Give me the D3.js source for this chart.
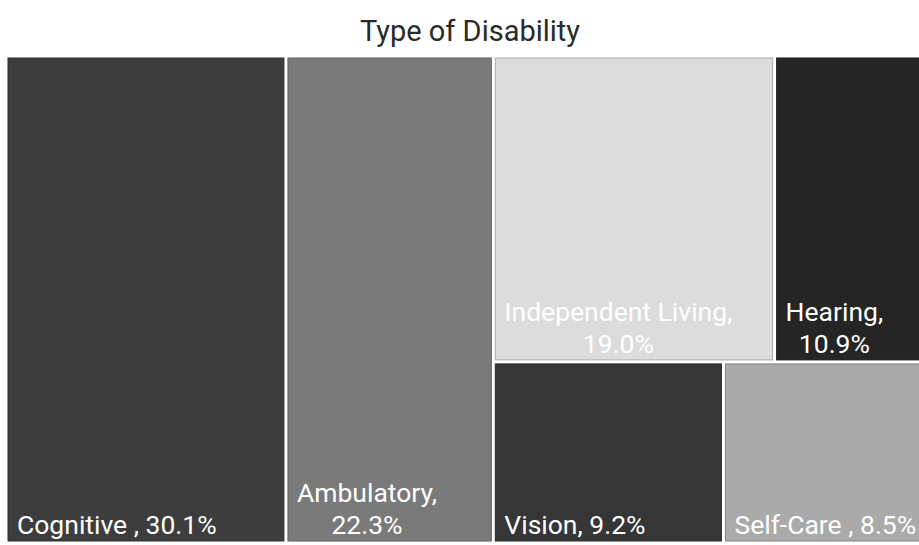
<!DOCTYPE html>
<html>
<head>
<meta charset="utf-8">
<script src="https://cdn.jsdelivr.net/npm/d3@7"></script>
<style>
  html, body { margin: 0; padding: 0; background: #fff; }
  svg { display: block; font-family: Roboto, "Noto Sans", sans-serif; }
</style>
</head>
<body>
<svg id="chart" width="919" height="545"></svg>
<script>
// Share of each disability type (percent)
const categories = ["Cognitive ", "Ambulatory", "Independent Living", "Hearing", "Vision", "Self-Care "];
const shares     = [30.1, 22.3, 19.0, 10.9, 9.2, 8.5];
// Layout group: columns on the left, then a 2x2 block split into top and bottom rows
const blocks     = ["Cognitive", "Ambulatory", "rest/top", "rest/top", "rest/bottom", "rest/bottom"];
const fills      = ["#3d3d3d", "#7a7a7a", "#dcdcdc", "#252525", "#363636", "#aaaaaa"];

const title = "Type of Disability";

const svg = d3.select("#chart");
const frame = { x: 8, y: 58, w: 926, h: 483 };

// Build nested hierarchy from the flat arrays
const leaves = categories.map((c, i) => ({ name: c, value: shares[i], fill: fills[i], path: blocks[i] }));
const rootData = { name: "root", children: [] };
leaves.forEach(l => {
  const parts = l.path.split("/");
  if (parts.length === 1) { rootData.children.push(l); return; }
  let parent = rootData;
  parts.forEach(p => {
    let n = parent.children.find(c => c.name === p && c.children);
    if (!n) { n = { name: p, children: [] }; parent.children.push(n); }
    parent = n;
  });
  parent.children.push(l);
});

const root = d3.hierarchy(rootData).sum(d => d.children ? 0 : d.value);
d3.treemap()
  .tile(d3.treemapSliceDice)
  .size([frame.w, frame.h])
  .paddingInner(4)(root);

svg.append("text")
  .attr("x", 470)
  .attr("y", 41)
  .attr("text-anchor", "middle")
  .attr("font-size", 29)
  .attr("fill", "#2a2a2a")
  .text(title);

const g = svg.append("g").attr("transform", `translate(${frame.x},${frame.y})`);

const cell = g.selectAll("g.cell")
  .data(root.leaves())
  .join("g")
  .attr("class", "cell");

cell.append("rect")
  .attr("x", d => d.x0)
  .attr("y", d => d.y0)
  .attr("width", d => d.x1 - d.x0)
  .attr("height", d => d.y1 - d.y0)
  .attr("fill", d => d.data.fill)
  .attr("stroke", d => d3.color(d.data.fill).darker(0.7))
  .attr("stroke-width", 1);

const fontSize = 26.5, lineGap = 32, padX = 9, padB = 7;

cell.each(function(d) {
  const sel = d3.select(this);
  const label = d.data.name + ", " + d.data.value.toFixed(1) + "%";
  const t = sel.append("text")
    .attr("font-size", fontSize)
    .attr("fill", "#fff");
  const one = t.append("tspan").text(label);
  const w = one.node().getComputedTextLength();
  const cw = d.x1 - d.x0;
  if (w <= cw - 16) {
    one.attr("x", d.x0 + padX).attr("y", d.y1 - padB);
  } else {
    one.remove();
    const lines = [d.data.name + ",", d.data.value.toFixed(1) + "%"];
    const spans = lines.map(s => t.append("tspan").text(s));
    const maxW = d3.max(spans, s => s.node().getComputedTextLength());
    const cx = d.x0 + padX + maxW / 2;
    spans.forEach((s, i) => {
      s.attr("text-anchor", "middle")
       .attr("x", cx)
       .attr("y", d.y1 - padB - (lines.length - 1 - i) * lineGap);
    });
  }
});
</script>
</body>
</html>
